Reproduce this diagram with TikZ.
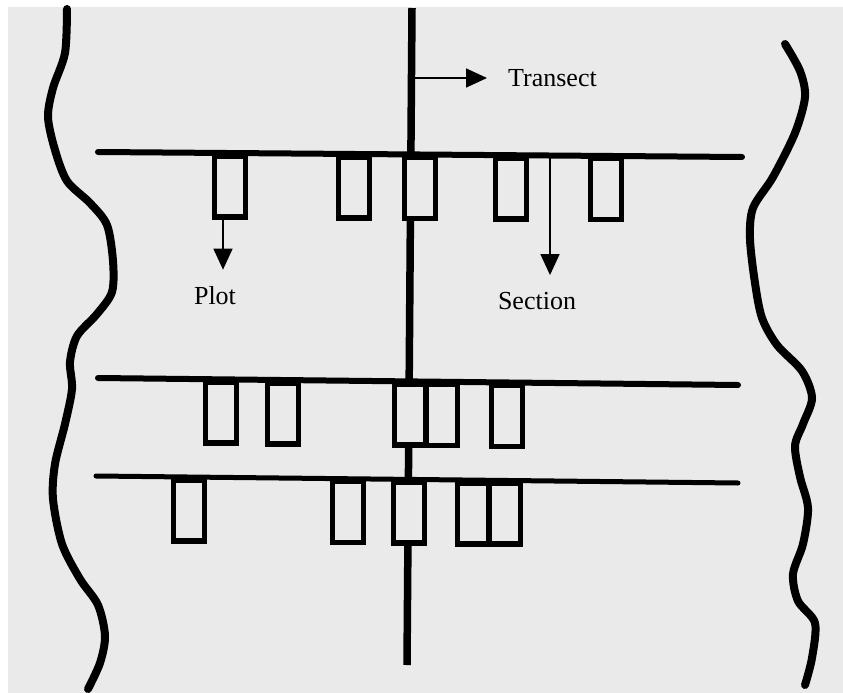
\documentclass[tikz,border=0pt]{standalone}
\usepackage{tikz}
\usetikzlibrary{arrows.meta}
\usepackage{fontspec}
\setmainfont{Liberation Serif}
\definecolor{fond}{RGB}{234, 234, 234}

\begin{document}
\begin{tikzpicture}[x=1pt,y=-1pt,
	plotbox/.style={draw,fill=fond,line width=5.5pt,minimum width=31pt,minimum height=61pt,inner sep=0pt,anchor=north},
	fleche/.style={line width=1.6pt,-{Triangle[length=21pt,width=19pt]}},
	bord/.style={line width=8pt,line cap=round},
	etiquette/.style={font=\fontsize{26}{30}\selectfont,inner sep=1pt}]
				\useasboundingbox (0,0) rectangle (843,693);
				\fill[fond] (8,7) rectangle (843,693); % le papier
				% les bords de la zone
				\draw[bord] plot[smooth] coordinates {(67,9) (65,53) (53,88) (48,117) (55,150) (67,181) (90,203) (107,225) (113,261) (112,292) (97,314) (77,336) (70,362) (72,389) (65,424) (55,464) (53,499) (62,544) (80,579) (98,605) (105,636) (100,663) (88,689)};
				\draw[bord] plot[smooth] coordinates {(785,44) (800,71) (805,97) (795,133) (773,177) (753,208) (750,239) (755,283) (762,318) (777,345) (802,371) (812,398) (803,424) (795,446) (800,477) (808,508) (803,544) (793,574) (798,601) (815,623) (812,658) (805,685)};
				% le transect et les sections
				\coordinate (trn) at (412,8);
				\coordinate (trs) at (407,665);
				\draw[line width=7.5pt] (trn)--(trs);
				\coordinate (s1w) at (98,152);
				\coordinate (s1e) at (742,157);
				\coordinate (s2w) at (98,378);
				\coordinate (s2e) at (738,385);
				\coordinate (s3w) at (96,476);
				\coordinate (s3e) at (738,483);
				% les placettes
				\foreach \nom/\x/\y in {t1/230/153, t2/354/154, t3/420/154.5, t4/511/155.2, t5/606/155.9,
					m1/221/379.3, m2/283/380, m3/410/381.4, m4/442/381.7, m5/507/382.5,
					b1/189/477, b2/348/478.7, b3/409/479.4, b4/473/480.1, b5/505/480.4}{
					\node[plotbox] (\nom) at (\x,\y) {};}
				\draw[line width=6pt,line cap=round] (s1w)--(s1e);
				\draw[line width=6pt,line cap=round] (s2w)--(s2e);
				\draw[line width=5pt,line cap=round] (s3w)--(s3e);
				% les etiquettes
				\node[etiquette,anchor=west] (transect) at (507,78) {Transect};
				\node[etiquette] (plot) at (215,296) {Plot};
				\node[etiquette] (section) at (537,301) {Section};
				\coordinate (trdep) at (412,78);
				\coordinate (secdep) at (550,157);
				\draw[fleche,shorten >=20pt] (trdep)--(transect.west);
				\draw[fleche,shorten >=16pt] ([xshift=-7pt]t1.south)--([xshift=8pt]plot.north);
				\draw[fleche,shorten >=16pt] (secdep)--([xshift=13pt]section.north);
			\end{tikzpicture}
\end{document}
